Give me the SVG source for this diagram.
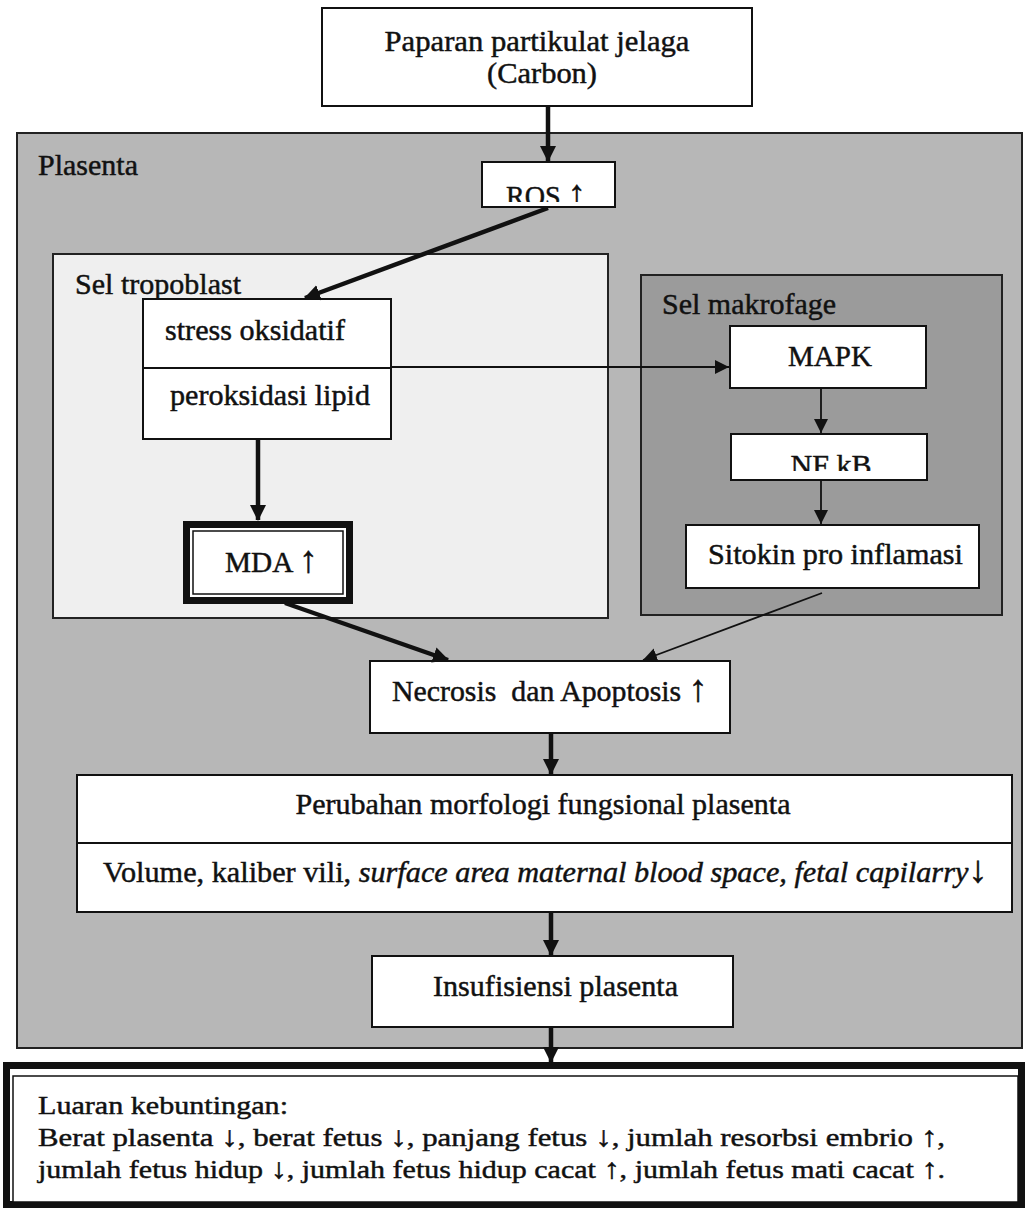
<svg xmlns="http://www.w3.org/2000/svg" width="1025" height="1208" viewBox="0 0 1025 1208">
<style>
text{font-family:"Liberation Serif","Times New Roman",serif;font-size:29px;fill:#111;stroke:#111;stroke-width:0.45}
text.small{font-size:26px}
.ar{font-size:1.3em;font-style:normal}
text.small .ar{font-size:1.08em}
.box{fill:#fff;stroke:#111;stroke-width:2}
.thick{stroke:#111;stroke-width:4.5;fill:none}
.thin{stroke:#111;stroke-width:1.8;fill:none}
.mid{text-anchor:middle}
</style>
<defs>
<marker id="ah" markerUnits="userSpaceOnUse" markerWidth="18" markerHeight="18" refX="15" refY="8" orient="auto">
<path d="M0,0 L16,8 L0,16 z" fill="#111"/>
</marker>
<marker id="ahs" markerUnits="userSpaceOnUse" markerWidth="16" markerHeight="16" refX="14" refY="7" orient="auto">
<path d="M0,0 L14,7 L0,14 z" fill="#111"/>
</marker>
<clipPath id="clipROS"><rect x="482" y="163" width="132" height="39"/></clipPath>
<clipPath id="clipNF"><rect x="732" y="435" width="194" height="36"/></clipPath>
</defs>
<rect width="1025" height="1208" fill="#fff"/>

<g id="plasenta">
<rect x="17" y="133" width="1005" height="915" fill="#b7b7b7" stroke="#222" stroke-width="2"/>
<text x="38" y="175" textLength="100" lengthAdjust="spacingAndGlyphs">Plasenta</text>
</g>

<g id="sel-tropoblast">
<rect x="53" y="254" width="555" height="364" fill="#efefef" stroke="#222" stroke-width="2"/>
<text x="75" y="294" textLength="166" lengthAdjust="spacingAndGlyphs">Sel tropoblast</text>
</g>

<g id="sel-makrofage">
<rect x="641" y="275" width="361" height="340" fill="#9b9b9b" stroke="#222" stroke-width="2"/>
<text x="662" y="314" textLength="174" lengthAdjust="spacingAndGlyphs">Sel makrofage</text>
</g>

<g id="paparan">
<rect class="box" x="322" y="8" width="430" height="98"/>
<text class="mid" x="537" y="51" textLength="305" lengthAdjust="spacingAndGlyphs">Paparan partikulat jelaga</text>
<text class="mid" x="542" y="83" textLength="110" lengthAdjust="spacingAndGlyphs">(Carbon)</text>
</g>

<g id="ros">
<rect class="box" x="482" y="162" width="133" height="45"/>
<text class="mid" x="546" y="206" textLength="80" lengthAdjust="spacingAndGlyphs" clip-path="url(#clipROS)">ROS <tspan class="ar">↑</tspan></text>
</g>

<g id="stress-peroksidasi">
<rect class="box" x="143" y="299" width="248" height="140"/>
<line x1="143" y1="368" x2="391" y2="368" stroke="#111" stroke-width="2"/>
<text x="165" y="340" textLength="180" lengthAdjust="spacingAndGlyphs">stress oksidatif</text>
<text x="170" y="405" textLength="200" lengthAdjust="spacingAndGlyphs">peroksidasi lipid</text>
</g>

<g id="mda">
<rect x="186.5" y="524.5" width="163" height="76" fill="#fff" stroke="#111" stroke-width="7"/>
<rect x="193" y="531" width="150" height="63" fill="#fff" stroke="#111" stroke-width="1.5"/>
<text x="225" y="572" textLength="93" lengthAdjust="spacingAndGlyphs">MDA <tspan class="ar">↑</tspan></text>
</g>

<g id="mapk">
<rect class="box" x="730" y="326" width="196" height="62"/>
<text class="mid" x="830" y="366" textLength="84" lengthAdjust="spacingAndGlyphs">MAPK</text>
</g>

<g id="nfkb">
<rect class="box" x="731" y="434" width="196" height="46"/>
<text class="mid" x="831" y="475" textLength="81" lengthAdjust="spacingAndGlyphs" clip-path="url(#clipNF)">NF kB</text>
</g>

<g id="sitokin">
<rect class="box" x="686" y="525" width="293" height="63"/>
<text x="708" y="564" textLength="255" lengthAdjust="spacingAndGlyphs">Sitokin pro inflamasi</text>
</g>

<g id="necrosis">
<rect class="box" x="370" y="661" width="360" height="72"/>
<text x="392" y="701" textLength="316" lengthAdjust="spacingAndGlyphs" xml:space="preserve">Necrosis  dan Apoptosis <tspan class="ar">↑</tspan></text>
</g>

<g id="perubahan">
<rect class="box" x="77" y="775" width="935" height="137"/>
<line x1="77" y1="843" x2="1012" y2="843" stroke="#111" stroke-width="2"/>
<text class="mid" x="543" y="814" textLength="495" lengthAdjust="spacingAndGlyphs">Perubahan morfologi fungsional plasenta</text>
<text x="103" y="882" textLength="885" lengthAdjust="spacingAndGlyphs">Volume, kaliber vili, <tspan font-style="italic">surface area maternal blood space, fetal capilarry</tspan><tspan class="ar">↓</tspan></text>
</g>

<g id="insufisiensi">
<rect class="box" x="372" y="956" width="361" height="71"/>
<text x="433" y="996" textLength="245" lengthAdjust="spacingAndGlyphs">Insufisiensi plasenta</text>
</g>

<g id="luaran">
<rect x="6.5" y="1065.5" width="1015" height="139" fill="#fff" stroke="#111" stroke-width="7"/>
<rect x="13" y="1076" width="1005" height="126" fill="#fff" stroke="#111" stroke-width="1.5"/>
<text class="small" x="38" y="1114" textLength="250" lengthAdjust="spacingAndGlyphs">Luaran kebuntingan:</text>
<text class="small" x="38" y="1146" textLength="907" lengthAdjust="spacingAndGlyphs">Berat plasenta <tspan class="ar">↓</tspan>, berat fetus <tspan class="ar">↓</tspan>, panjang fetus <tspan class="ar">↓</tspan>, jumlah resorbsi embrio <tspan class="ar">↑</tspan>,</text>
<text class="small" x="38" y="1178" textLength="907" lengthAdjust="spacingAndGlyphs">jumlah fetus hidup <tspan class="ar">↓</tspan>, jumlah fetus hidup cacat <tspan class="ar">↑</tspan>, jumlah fetus mati cacat <tspan class="ar">↑</tspan>.</text>
</g>

<g id="connectors">
<line class="thick" x1="548" y1="106" x2="548" y2="161" marker-end="url(#ah)"/>
<line class="thick" x1="548" y1="208" x2="305" y2="298" marker-end="url(#ah)"/>
<line class="thin" x1="391" y1="367" x2="729" y2="367" marker-end="url(#ahs)"/>
<line class="thick" x1="258" y1="439" x2="258" y2="520" marker-end="url(#ah)"/>
<line class="thin" x1="821" y1="388" x2="821" y2="433" marker-end="url(#ahs)"/>
<line class="thin" x1="821" y1="480" x2="821" y2="524" marker-end="url(#ahs)"/>
<line class="thick" x1="285" y1="603" x2="448" y2="660" marker-end="url(#ah)"/>
<line class="thin" x1="822" y1="593" x2="643" y2="660" marker-end="url(#ahs)"/>
<line class="thick" x1="551" y1="733" x2="551" y2="774" marker-end="url(#ah)"/>
<line class="thick" x1="551" y1="912" x2="551" y2="955" marker-end="url(#ah)"/>
<line class="thick" x1="551" y1="1027" x2="551" y2="1062" marker-end="url(#ah)"/>
</g>
</svg>
